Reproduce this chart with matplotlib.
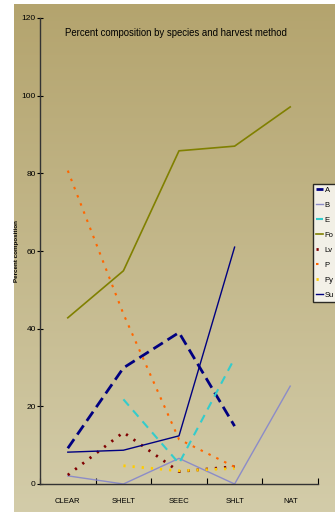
import matplotlib
matplotlib.use("Agg")
import matplotlib.pyplot as plt
import numpy as np
from matplotlib.colors import LinearSegmentedColormap

plt.rcParams['font.family'] = ['Liberation Sans', 'DejaVu Sans']

# harvest methods on the x axis
methods = ["CLEAR", "SHELT", "SEEC", "SHLT", "NAT"]

# percent composition per species (nan = not present)
nan = np.nan
aspen = [9.2, 29.9, 39.0, 14.9, nan]
birch = [2.1, 0.0, 6.6, 0.0, 25.2]
elm = [nan, 21.8, 5.3, 32.4, nan]
forbs = [42.8, 54.9, 85.8, 87.0, 97.1]
lv = [2.3, 13.3, 3.2, 4.5, nan]
pine = [80.7, 43.8, 11.5, 4.4, nan]
pyr = [nan, 4.7, 3.4, 4.0, nan]
sugar = [8.2, 8.7, 12.4, 61.0, nan]

names = ["A", "B", "E", "Fo", "Lv", "P", "Py", "Su"]
series = [aspen, birch, elm, forbs, lv, pine, pyr, sugar]
styles = [
    dict(color="#000080", lw=2.0, ls=(0, (4, 2))),
    dict(color="#8c8cc8", lw=1.0, ls="-"),
    dict(color="#33cccc", lw=1.5, ls=(0, (4, 3))),
    dict(color="#808000", lw=1.2, ls="-"),
    dict(color="#800000", lw=2.0, ls=(0, (0.8, 2.5))),
    dict(color="#ff6600", lw=1.5, ls=(0, (1.2, 3))),
    dict(color="#ffcc00", lw=2.0, ls=(0, (0.8, 2.5))),
    dict(color="#000080", lw=1.0, ls="-"),
]

fig = plt.figure(figsize=(3.35, 5.17), dpi=100)

# gradient chart background
bg = fig.add_axes([14 / 335, 4.5 / 517, 1 - 14 / 335, 1 - 8.5 / 517])
cmap = LinearSegmentedColormap.from_list("tan", ["#b4a46e", "#d3cca9"])
bg.imshow(np.linspace(0, 1, 256).reshape(-1, 1), aspect="auto", cmap=cmap)
bg.axis("off")

ax = fig.add_axes([40 / 335, 33 / 517, 278 / 335, 466 / 517])
ax.patch.set_alpha(0)

x = np.arange(len(methods))
for vals, name, st in zip(series, names, styles):
    ax.plot(x, vals, label=name, **st)

ax.set_xlim(-0.5, len(methods) - 0.5)
ax.set_ylim(0, 120)
ax.set_yticks(np.arange(0, 121, 20))
ax.set_xticks(x)
ax.set_xticklabels(methods, fontsize=5.5)
ax.set_xticks(np.arange(-0.5, len(methods), 1), minor=True)
ax.tick_params(axis="x", which="major", length=0, pad=10)
ax.tick_params(axis="x", which="minor", direction="in", length=4, width=0.8)
ax.tick_params(axis="y", direction="inout", length=4, width=0.8, labelsize=6, pad=1)
for s in ["top", "right"]:
    ax.spines[s].set_visible(False)
for s in ["left", "bottom"]:
    ax.spines[s].set_color("#333333")
    ax.spines[s].set_linewidth(1.0)

ax.set_ylabel("Percent composition", fontsize=4.5, fontweight="bold", labelpad=2)

fig.text(65 / 335, 1 - 33 / 517, "Percent composition by species and harvest method",
         fontsize=6.9, va="center", ha="left")

leg = fig.legend(loc="upper left", bbox_to_anchor=(313 / 335, 1 - 184 / 517),
                 fontsize=5.5, frameon=True, fancybox=False, edgecolor="black",
                 handlelength=1.0, handletextpad=0.2, labelspacing=1.0,
                 borderpad=0.35, borderaxespad=0)
leg.get_frame().set_linewidth(1.0)
leg.get_frame().set_facecolor("white")

fig.savefig("out.png", dpi=100)
